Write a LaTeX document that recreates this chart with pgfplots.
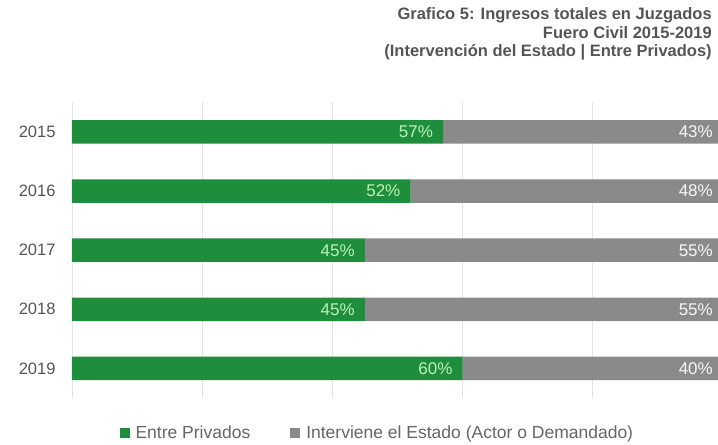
\documentclass[border=0pt]{standalone}
\usepackage{fontspec}
\setmainfont{Liberation Sans}
\usepackage{pgfplots}
\usepackage{pgfplotstable}
\pgfplotsset{compat=1.18}

\definecolor{privgreen}{HTML}{1F8E3C}
\definecolor{estgray}{HTML}{8A8A8A}
\definecolor{txtgray}{HTML}{555555}
\definecolor{leggray}{HTML}{666666}
\definecolor{gridgray}{HTML}{E4E4E4}
\definecolor{lblgreen}{HTML}{BDF2B5}

\pgfplotstableread{
pos year priv est
0 2015 57 43
1 2016 52 48
2 2017 45 55
3 2018 45 55
4 2019 60 40
}\shares

\begin{document}
\begin{tikzpicture}
\begin{axis}[
    xbar stacked,
    width=651pt, height=295.6pt,
    scale only axis,
    xmin=0, xmax=100,
    ymin=-0.5, ymax=4.5,
    y dir=reverse,
    bar width=23.5pt,
    axis lines*=left,
    axis line style={draw=none},
    xtick={0,20,...,100},
    xticklabels={},
    ytick={0,1,2,3,4},
    yticklabels={2015,2016,2017,2018,2019},
    xmajorgrids,
    grid style={gridgray, line width=0.9pt},
    tick style={draw=none},
    yticklabel style={font=\fontsize{16.5}{18}\selectfont, text=txtgray, anchor=east, xshift=-13pt},
    title={Grafico 5: Ingresos totales en Juzgados\\Fuero Civil 2015-2019\\(Intervención del Estado | Entre Privados)},
    title style={at={(rel axis cs:0.983,1)}, anchor=south east, align=right, inner sep=0pt,
        font=\bfseries\fontsize{16.5}{18.5}\selectfont, text=txtgray, yshift=36pt},
    visualization depends on={\thisrow{seg} \as \segw},
    nodes near coords={\pgfmathprintnumber[assume math mode=true]{\pgfplotspointmeta}\%},
    every node near coord/.append style={anchor=east, inner sep=0pt,
        font=\fontsize{17}{19}\selectfont, xshift={\segw*3.255pt-10pt}},
    legend style={at={(0.469,-0.118)}, anchor=center, draw=none, fill=none,
        font=\fontsize{17.5}{19}\selectfont, text=leggray,
        /tikz/every even column/.append style={column sep=38pt}},
    legend columns=2,
    legend image code/.code={\fill[#1] (0pt,-5pt) rectangle (10pt,5pt); \path (14pt,0pt);},
]
\addplot[fill=privgreen, draw=none, every node near coord/.append style={text=lblgreen}]
    table[x=priv, y=pos, meta=priv, create on use/seg/.style={create col/copy=priv}] {\shares};
\addplot[fill=estgray, draw=none, every node near coord/.append style={text=white!94!gray}]
    table[x=est, y=pos, meta=est, create on use/seg/.style={create col/copy=est}] {\shares};
\legend{Entre Privados, Interviene el Estado (Actor o Demandado)}
\end{axis}
\pgfresetboundingbox
\path ([shift={(-72pt,-46.6pt)}]current axis.south west) rectangle ([shift={(-5pt,102.4pt)}]current axis.north east);
\end{tikzpicture}
\end{document}
